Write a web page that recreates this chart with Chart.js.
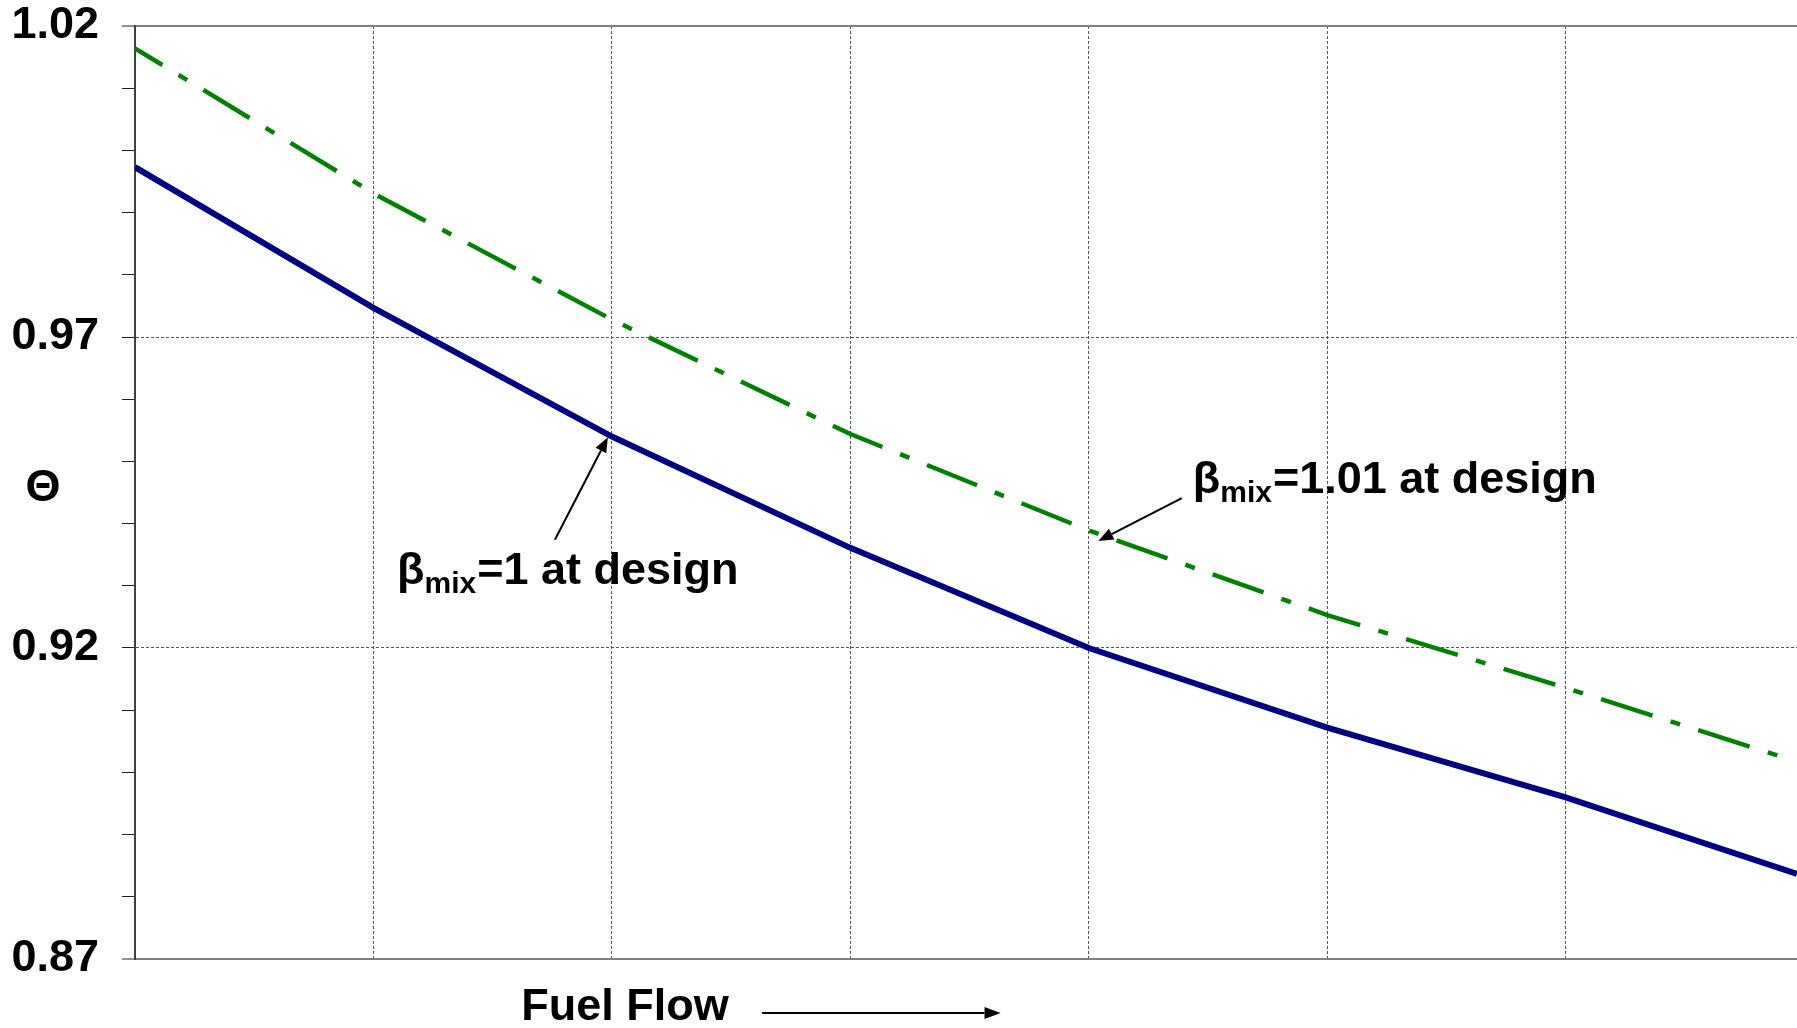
<!DOCTYPE html>
<html>
<head>
<meta charset="utf-8">
<script src="https://cdn.jsdelivr.net/npm/chart.js@4.4.1/dist/chart.umd.min.js"></script>
<style>
  html, body { margin: 0; padding: 0; background: #fff; }
</style>
</head>
<body>
<canvas id="chart" width="1797" height="1028"></canvas>
<script>
// fuel flow positions (arbitrary units, one per vertical gridline) and theta values
const flowBeta1 = [0, 1, 2, 3, 4, 5, 6, 6.97];
const thetaBeta1 = [0.9973, 0.9747, 0.9540, 0.9361, 0.9200, 0.9072, 0.8960, 0.8837];
const flowBeta101 = [0, 1, 2, 3, 4, 5, 6, 6.93];
const thetaBeta101 = [1.0164, 0.9931, 0.9728, 0.9544, 0.9389, 0.9253, 0.9136, 0.9022];
const majorTicks = [0.87, 0.92, 0.97, 1.02];

const FONT = '"Liberation Sans", Arial, sans-serif';

// callouts, given in data units: arrow from tail to tip, text starts at textAt (baseline)
const callouts = [
  { rest: "=1 at design", textAt: [1.099, 0.9303], tail: [1.761, 0.9374], tip: [1.983, 0.9539] },
  { rest: "=1.01 at design", textAt: [4.436, 0.9449], tail: [4.39, 0.9441], tip: [4.04, 0.9372] }
];

function isMajor(v) {
  return majorTicks.some(m => Math.abs(m - v) < 1e-6);
}
function isEdge(v) {
  return Math.abs(v - 0.87) < 1e-6 || Math.abs(v - 1.02) < 1e-6;
}

function drawArrow(ctx, x1, y1, x2, y2, head, half) {
  const ang = Math.atan2(y2 - y1, x2 - x1);
  const bx = x2 - head * Math.cos(ang), by = y2 - head * Math.sin(ang);
  ctx.save();
  ctx.strokeStyle = "#000";
  ctx.fillStyle = "#000";
  ctx.lineWidth = 2;
  ctx.beginPath();
  ctx.moveTo(x1, y1);
  ctx.lineTo(bx, by);
  ctx.stroke();
  ctx.beginPath();
  ctx.moveTo(x2, y2);
  ctx.lineTo(bx + half * Math.sin(ang), by - half * Math.cos(ang));
  ctx.lineTo(bx - half * Math.sin(ang), by + half * Math.cos(ang));
  ctx.closePath();
  ctx.fill();
  ctx.restore();
}

function drawBetaLabel(ctx, x, y, rest) {
  ctx.save();
  ctx.fillStyle = "#000";
  ctx.textBaseline = "alphabetic";
  ctx.textAlign = "left";
  ctx.font = "bold 45px " + FONT;
  ctx.fillText("β", x, y);
  x += ctx.measureText("β").width;
  ctx.font = "bold 30px " + FONT;
  ctx.fillText("mix", x, y + 9);
  x += ctx.measureText("mix").width + 1;
  ctx.font = "bold 45px " + FONT;
  ctx.fillText(rest, x, y);
  ctx.restore();
}

const annotations = {
  id: "annotations",
  afterDraw(chart) {
    const { ctx, chartArea, scales } = chart;
    const xs = scales.x, ys = scales.y;
    callouts.forEach(c => {
      drawArrow(ctx,
        xs.getPixelForValue(c.tail[0]), ys.getPixelForValue(c.tail[1]),
        xs.getPixelForValue(c.tip[0]), ys.getPixelForValue(c.tip[1]), 15, 6);
      drawBetaLabel(ctx, xs.getPixelForValue(c.textAt[0]), ys.getPixelForValue(c.textAt[1]), c.rest);
    });

    // axis titles
    ctx.save();
    ctx.fillStyle = "#000";
    ctx.font = "bold 45px " + FONT;
    ctx.textAlign = "center";
    ctx.textBaseline = "middle";
    ctx.fillText("Θ", 43, (chartArea.top + chartArea.bottom) / 2 - 4);
    ctx.textAlign = "left";
    ctx.textBaseline = "alphabetic";
    ctx.fillText("Fuel Flow", xs.getPixelForValue(1.62), chartArea.bottom + 61);
    ctx.restore();
    drawArrow(ctx, xs.getPixelForValue(2.63), chartArea.bottom + 54,
      xs.getPixelForValue(3.63), chartArea.bottom + 54, 16, 6);
  }
};

new Chart(document.getElementById("chart"), {
  type: "line",
  data: {
    datasets: [
      {
        label: "βmix=1 at design",
        data: flowBeta1.map((x, i) => ({ x: x, y: thetaBeta1[i] })),
        borderColor: "#000080",
        borderWidth: 6,
        pointRadius: 0,
        tension: 0,
        fill: false
      },
      {
        label: "βmix=1.01 at design",
        data: flowBeta101.map((x, i) => ({ x: x, y: thetaBeta101[i] })),
        borderColor: "#008000",
        borderWidth: 4.5,
        borderDash: [54, 19, 10, 19],
        borderDashOffset: 22,
        borderCapStyle: "butt",
        pointRadius: 0,
        tension: 0,
        fill: false
      }
    ]
  },
  options: {
    responsive: false,
    animation: false,
    devicePixelRatio: 1,
    layout: { padding: 0 },
    plugins: { legend: { display: false }, tooltip: { enabled: false } },
    scales: {
      x: {
        type: "linear",
        min: 0,
        max: 6.97,
        ticks: { display: false, stepSize: 1, includeBounds: false },
        grid: {
          drawTicks: false,
          color: ctx => (ctx.tick && ctx.tick.value > 0 ? "#555" : "rgba(0,0,0,0)"),
          lineWidth: 1
        },
        border: { display: true, color: "#808080", width: 2, dash: [3, 2] },
        afterFit: scale => { scale.height = 69; }
      },
      y: {
        min: 0.87,
        max: 1.02,
        ticks: {
          stepSize: 0.01,
          autoSkip: false,
          padding: 23,
          color: "#000",
          font: { family: FONT, size: 45, weight: "bold" },
          callback: v => (isMajor(v) ? v.toFixed(2) : "")
        },
        grid: {
          drawTicks: true,
          tickLength: 13,
          tickColor: "#222",
          tickWidth: 1,
          color: ctx => {
            if (!ctx.tick || !isMajor(ctx.tick.value)) return "rgba(0,0,0,0)";
            return isEdge(ctx.tick.value) ? "#808080" : "#555";
          },
          lineWidth: ctx => (ctx.tick && isEdge(ctx.tick.value) ? 2 : 1)
        },
        border: {
          display: true,
          color: "#404040",
          width: 2,
          dash: ctx => (ctx.tick && !isEdge(ctx.tick.value) ? [3, 2] : [])
        },
        afterFit: scale => {
          scale.width = 135;
          scale.paddingTop = 26;
          scale.paddingBottom = 26;
        }
      }
    }
  },
  plugins: [annotations]
});
</script>
</body>
</html>
